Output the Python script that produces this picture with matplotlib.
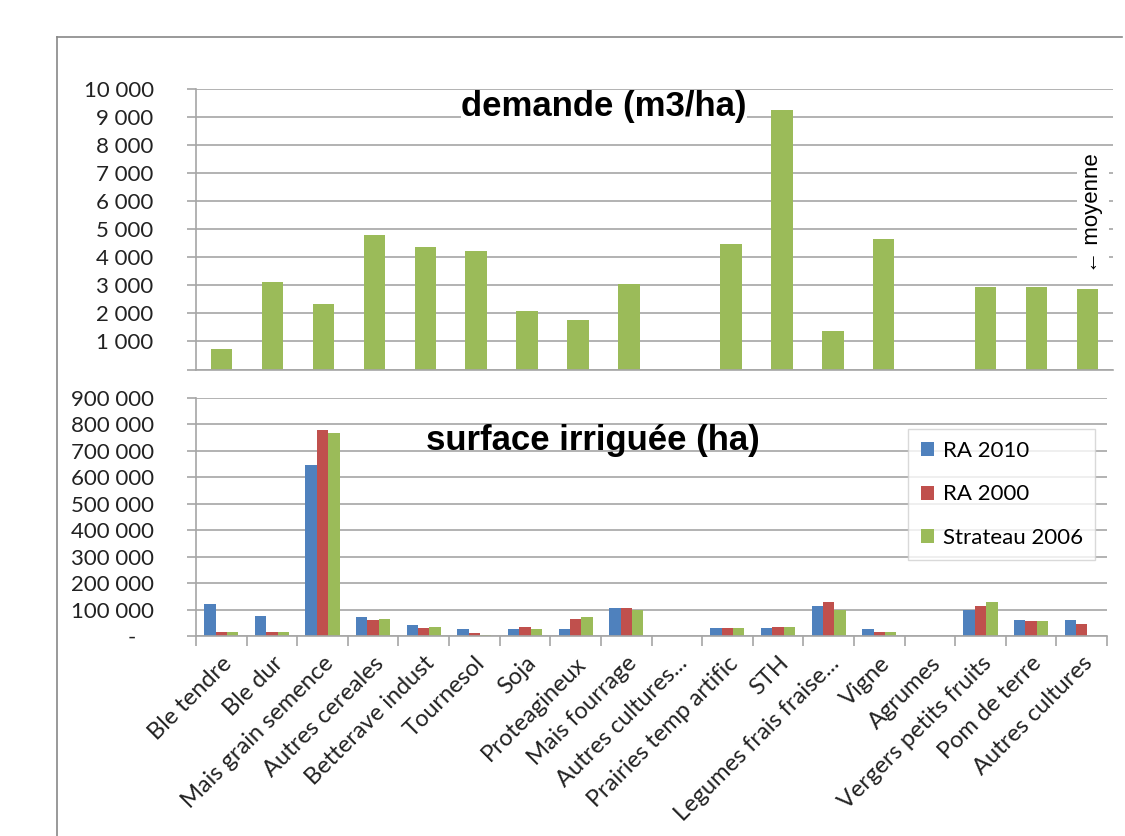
import numpy as np
import matplotlib.pyplot as plt
from matplotlib.lines import Line2D

# categories (x axis)
cultures = ["Ble tendre", "Ble dur", "Mais grain semence", "Autres cereales",
            "Betterave indust", "Tournesol", "Soja", "Proteagineux",
            "Mais fourrage", "Autres cultures...", "Prairies temp artific", "STH",
            "Legumes frais fraise...", "Vigne", "Agrumes", "Vergers petits fruits",
            "Pom de terre", "Autres cultures"]

# demande en eau (m3/ha)
demande = [720, 3100, 2340, 4780, 4360, 4220, 2080, 1760, 3040, 0,
           4470, 9230, 1370, 4630, 0, 2950, 2950, 2850]

# surface irriguee (ha)
ra2010 = [120000, 76000, 646000, 71000, 40000, 25000, 25000, 25000, 105000, 0,
          30000, 30000, 115000, 25000, 0, 100000, 60000, 60000]
ra2000 = [16000, 16000, 779000, 60000, 30000, 10000, 35000, 65000, 105000, 0,
          30000, 35000, 130000, 15000, 0, 115000, 55000, 45000]
strateau2006 = [16000, 16000, 769000, 65000, 35000, 5000, 25000, 71000, 98000, 0,
                30000, 35000, 98000, 15000, 0, 130000, 55000, 0]

bleu = "#4F81BD"
rouge = "#C0504D"
vert = "#9BBB59"
gris = "#A6A6A6"

W, H = 1125, 836
fig = plt.figure(figsize=(W / 100, H / 100), dpi=100)
plt.rcParams['font.family'] = ['Lato', 'DejaVu Sans']

def px(x0, y0, x1, y1):
    return [x0 / W, 1 - y1 / H, (x1 - x0) / W, (y1 - y0) / H]

# cadre de la diapo
fig.add_artist(Line2D([57 / W, 1122 / W], [1 - 37 / H, 1 - 37 / H], color="#888888", lw=1.2))
fig.add_artist(Line2D([57 / W, 57 / W], [1 - 37 / H, 0], color="#888888", lw=1.2))

def fmt(v):
    return "{:,}".format(int(v)).replace(",", " ")

def style(ax):
    for s in ["top", "right"]:
        ax.spines[s].set_visible(False)
    for s in ["left", "bottom"]:
        ax.spines[s].set_color(gris)
        ax.spines[s].set_linewidth(1.2)
    ax.yaxis.grid(True, color=gris, lw=1.2)
    ax.set_axisbelow(True)
    ax.tick_params(axis="y", length=6.5, width=1.2, color=gris, pad=24,
                   labelsize=16, labelcolor="#222222")

x = np.arange(len(cultures))

# --- demande ---
ax1 = fig.add_axes(px(196, 88.6, 1113, 369.5))
style(ax1)
ax1.bar(x, demande, width=0.42, color=vert)
ax1.set_xlim(-0.5, len(cultures) - 0.5)
ax1.set_ylim(0, 10000)
yt = np.arange(0, 10001, 1000)
ax1.set_yticks(yt)
ax1.set_yticklabels([""] + [fmt(v) for v in yt[1:]])
ax1.set_xticks([])
ax1.text(0.445, 0.935, "demande (m3/ha)", transform=ax1.transAxes, ha="center", va="center",
         fontsize=25, fontweight="bold", family="Liberation Sans",
         bbox=dict(facecolor="white", edgecolor="none", pad=0))
ax1.text(17.1, 5570, "\u2190 moyenne", rotation=90, ha="center", va="center",
         fontsize=16, family=["Liberation Sans", "DejaVu Sans"],
         bbox=dict(facecolor="white", edgecolor="none", pad=4))

# --- surface irriguee ---
ax2 = fig.add_axes(px(196, 398, 1107, 636))
style(ax2)
bw = 0.225
ax2.bar(x - bw, ra2010, width=bw, color=bleu, label="RA 2010")
ax2.bar(x, ra2000, width=bw, color=rouge, label="RA 2000")
ax2.bar(x + bw, strateau2006, width=bw, color=vert, label="Strateau 2006")
ax2.set_xlim(-0.5, len(cultures) - 0.5)
ax2.set_ylim(0, 900000)
yt2 = np.arange(0, 900001, 100000)
ax2.set_yticks(yt2)
ax2.set_yticklabels(["-   "] + [fmt(v) for v in yt2[1:]])
ax2.set_xticks(np.arange(len(cultures) + 1) - 0.5, minor=True)
ax2.set_xticks(x)
ax2.set_xticklabels(cultures, rotation=45, ha="right", va="top",
                    rotation_mode="anchor", fontsize=17, color="#222222")
ax2.tick_params(axis="x", which="major", length=0, pad=12)
ax2.tick_params(axis="x", which="minor", length=7, width=1.2, color=gris)
ax2.text(0.436, 0.82, "surface irrigu\u00e9e (ha)", transform=ax2.transAxes,
         ha="center", va="center", fontsize=25, fontweight="bold",
         family="Liberation Sans")
leg = ax2.legend(loc="upper right", bbox_to_anchor=(0.987, 0.87), fontsize=16,
                 frameon=True, fancybox=False, handlelength=0.6, handleheight=0.6,
                 handletextpad=0.4, labelspacing=1.05, borderpad=0.55,
                 borderaxespad=0)
leg.get_frame().set_edgecolor("#D0D0D0")
leg.get_frame().set_linewidth(1.0)

fig.savefig("out.png", dpi=100)
